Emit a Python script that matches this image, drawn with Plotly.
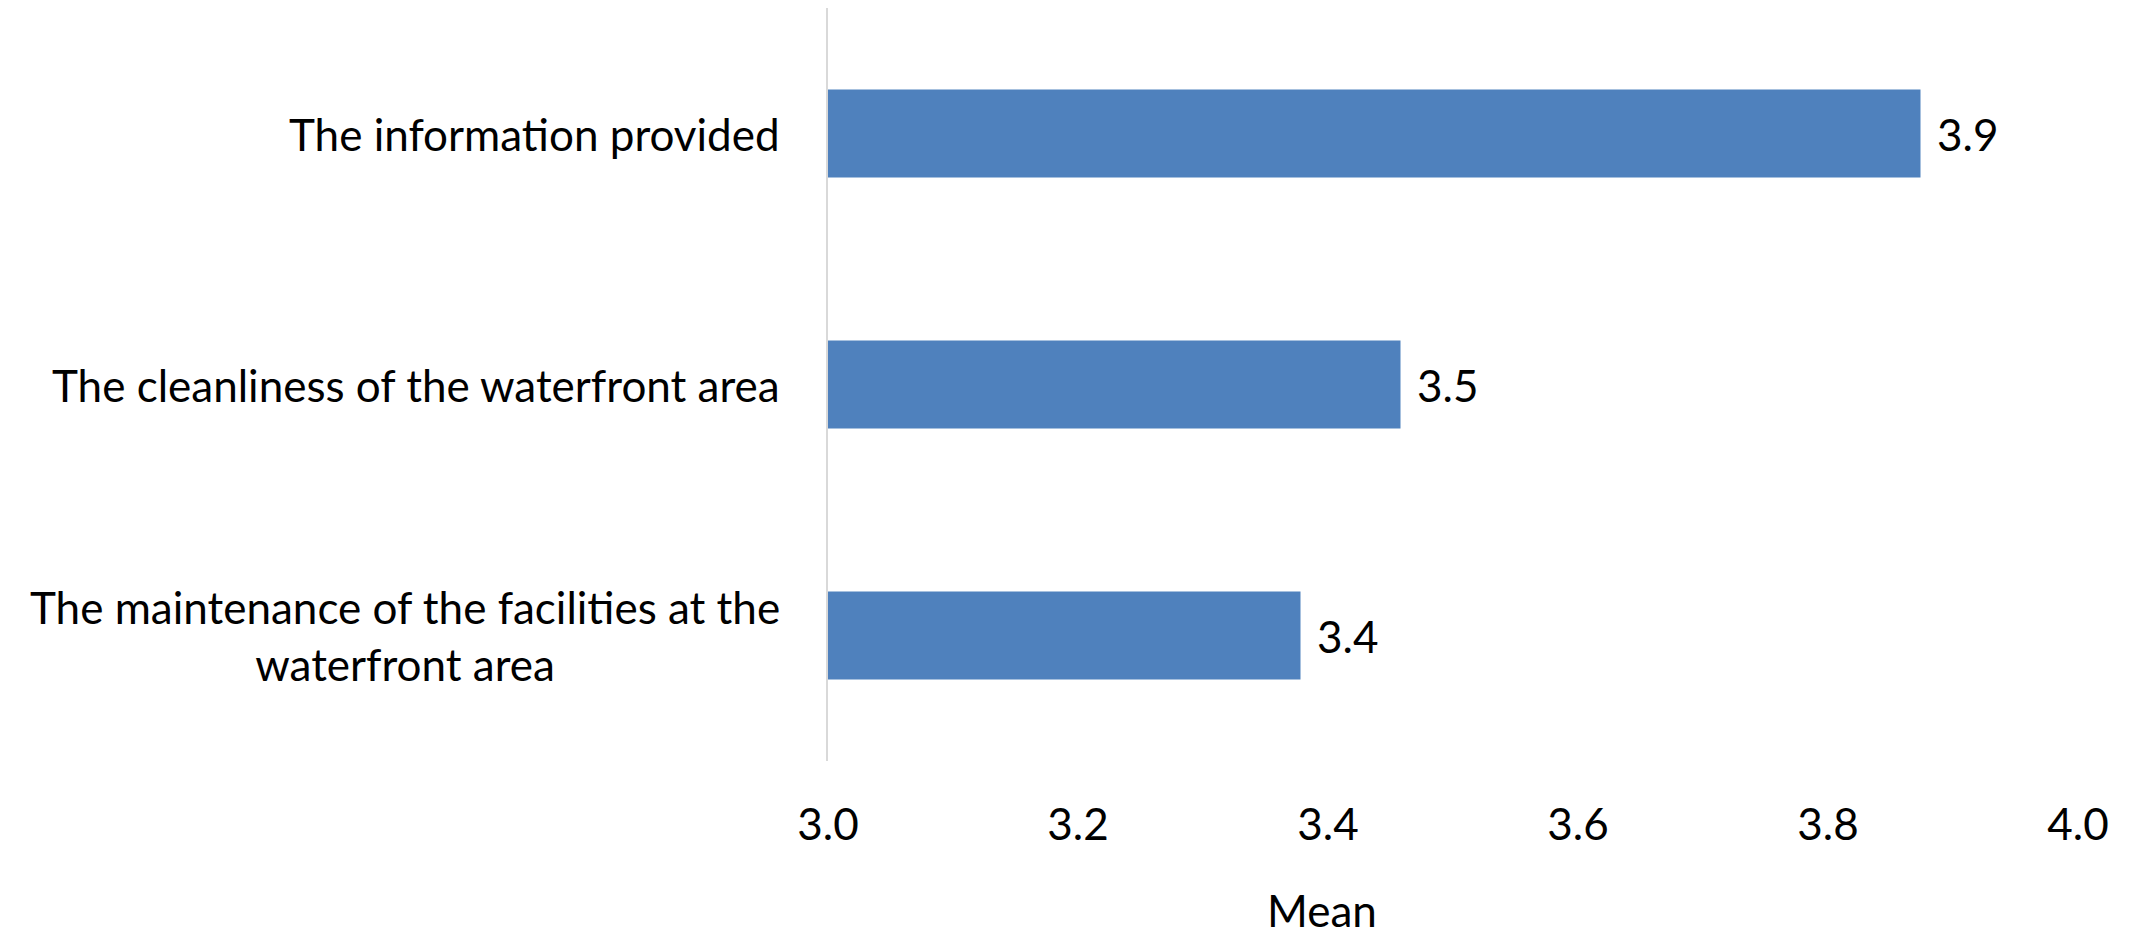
import plotly.graph_objects as go

categories = [
    "The information provided",
    "The cleanliness of the waterfront area",
    "The maintenance of the facilities at the<br>waterfront area",
]
means = [3.874, 3.458, 3.378]
x_ticks = [3.0, 3.2, 3.4, 3.6, 3.8, 4.0]
axis_title = "Mean"

FONT = "Lato"
FS = 44
BAR_COLOR = "#4F81BD"

fig = go.Figure()
fig.add_trace(go.Bar(
    x=means, y=list(range(len(categories))), orientation="h",
    marker=dict(color=BAR_COLOR, line=dict(width=0)),
    width=0.35, hoverinfo="skip",
))

annotations = []
for i, (c, v) in enumerate(zip(categories, means)):
    annotations.append(dict(
        x=0, xref="paper", y=i, yref="y", text=c, showarrow=False,
        xanchor="right", yanchor="middle", align="center", xshift=-46,
        font=dict(family=FONT, size=FS, color="#000000"),
    ))
    annotations.append(dict(
        x=v, xref="x", y=i, yref="y", text=f"{v:.1f}", showarrow=False,
        xanchor="left", yanchor="middle", xshift=14,
        font=dict(family=FONT, size=FS, color="#000000"),
    ))
annotations.append(dict(
    x=0.395, xref="paper", y=-0.198, yref="paper", text=axis_title,
    showarrow=False, xanchor="center", yanchor="middle",
    font=dict(family=FONT, size=FS, color="#000000"),
))

fig.update_layout(
    width=2123, height=923,
    margin=dict(l=820, r=53, t=0, b=170, pad=0),
    paper_bgcolor="white", plot_bgcolor="white",
    showlegend=False,
    annotations=annotations,
    font=dict(family=FONT, size=FS, color="#000000"),
    xaxis=dict(
        range=[3.0, 4.0], tickvals=x_ticks, tickformat=".1f",
        showgrid=False, zeroline=False, showline=False,
        ticks="outside", ticklen=25, tickcolor="rgba(0,0,0,0)",
        tickfont=dict(family=FONT, size=FS, color="#000000"),
        automargin=False, fixedrange=True,
    ),
    yaxis=dict(
        range=[2.5, -0.5], showticklabels=False, showgrid=False,
        zeroline=False, showline=True, linecolor="#D9D9D9", linewidth=2,
        ticks="", automargin=False, fixedrange=True,
    ),
)

fig.write_html("out.html")
